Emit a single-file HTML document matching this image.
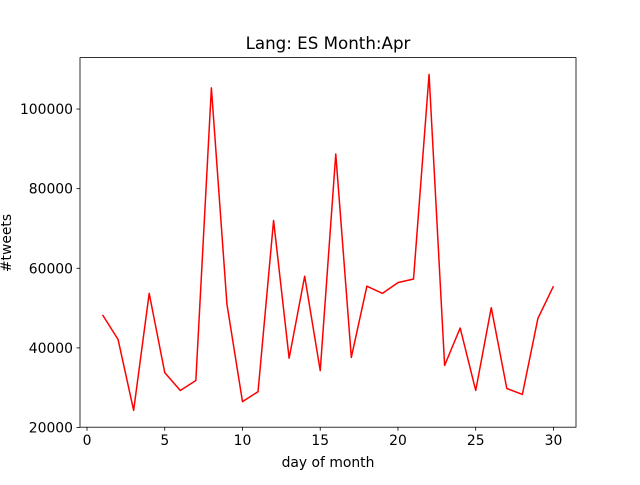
<!DOCTYPE html>
<html><head><meta charset="utf-8"><style>
body{margin:0;background:#fff;}
svg text{font-family:"DejaVu Sans","Liberation Sans",sans-serif;fill:#000;}
</style></head><body>
<svg width="640" height="480" xmlns="http://www.w3.org/2000/svg">
<rect width="640" height="480" fill="#fff"/>
<text x="328" y="49" font-size="16.7" text-anchor="middle">Lang: ES Month:Apr</text>
<g id="xt"></g>
<g id="yt"></g>
<polyline id="line" fill="none" stroke="#ff0000" stroke-width="1.5" stroke-linejoin="round"/>
<rect x="80" y="57.6" width="496" height="369.6" fill="none" stroke="#000" stroke-width="0.8"/>
<text x="328" y="467" font-size="13.9" text-anchor="middle">day of month</text>
<text transform="translate(11,243) rotate(-90)" font-size="13.9" text-anchor="middle">#tweets</text>
</svg>
<script>
const days=[1,2,3,4,5,6,7,8,9,10,11,12,13,14,15,16,17,18,19,20,21,22,23,24,25,26,27,28,29,30];
const tweets=[48300,42100,24300,53700,33800,29300,31800,105300,51000,26500,29000,72000,37400,58000,34300,88700,37600,55500,53700,56400,57300,108700,35600,45000,29300,50100,29800,28300,47400,55500];
const xTicks=[0,5,10,15,20,25,30];
const yTicks=[20000,40000,60000,80000,100000];
const L=80,R=576,T=57.6,B=427.2;
const xmin=Math.min(...days),xmax=Math.max(...days),xp=(xmax-xmin)*0.05;
const ymin=Math.min(...tweets),ymax=Math.max(...tweets),yp=(ymax-ymin)*0.05;
const X=v=>L+(v-(xmin-xp))/((xmax+xp)-(xmin-xp))*(R-L);
const Y=v=>B-(v-(ymin-yp))/((ymax+yp)-(ymin-yp))*(B-T);
const NS="http://www.w3.org/2000/svg";
document.getElementById('line').setAttribute('points',days.map((d,i)=>X(d)+','+Y(tweets[i])).join(' '));
const xt=document.getElementById('xt'),yt=document.getElementById('yt');
xTicks.forEach(t=>{const x=X(t);
const l=document.createElementNS(NS,'line');l.setAttribute('x1',x);l.setAttribute('x2',x);l.setAttribute('y1',B);l.setAttribute('y2',B+3.5);l.setAttribute('stroke','#000');l.setAttribute('stroke-width','0.8');


xt.appendChild(l);
const s=document.createElementNS(NS,'text');s.setAttribute('x',x);s.setAttribute('y',B+18);s.setAttribute('font-size','13.9');s.setAttribute('text-anchor','middle');s.textContent=t;


xt.appendChild(s);});
yTicks.forEach(t=>{const y=Y(t);
const l=document.createElementNS(NS,'line');l.setAttribute('x1',L-3.5);l.setAttribute('x2',L);l.setAttribute('y1',y);l.setAttribute('y2',y);l.setAttribute('stroke','#000');l.setAttribute('stroke-width','0.8');


yt.appendChild(l);
const s=document.createElementNS(NS,'text');s.setAttribute('x',L-7);s.setAttribute('y',y+5);s.setAttribute('font-size','13.9');s.setAttribute('text-anchor','end');s.textContent=t;


yt.appendChild(s);});
</script>
</body></html>
